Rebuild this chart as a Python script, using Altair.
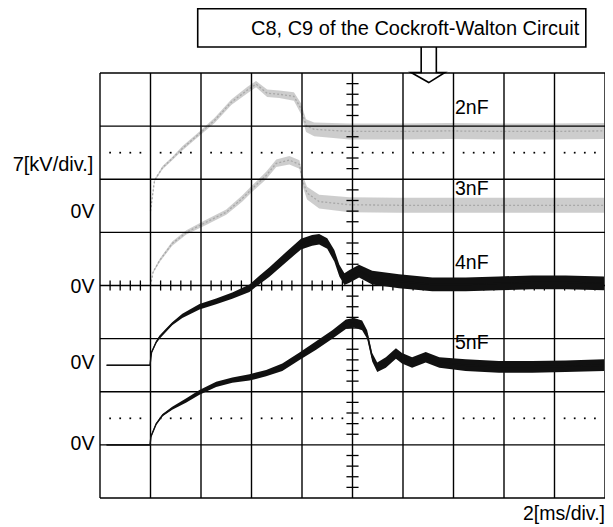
import altair as alt
import pandas as pd

# ---- data (x in divisions of 2 ms, y in divisions of 7 kV) ----
t_2nF = [1.00, 1.08, 1.24, 1.43, 1.63, 1.97, 2.27, 2.60, 2.92, 3.09, 3.31, 3.55, 3.84, 3.98, 4.08, 4.24, 4.94, 5.92, 6.91, 7.90, 8.89, 9.98]
v_2nF = [5.40, 5.98, 6.22, 6.39, 6.58, 6.86, 7.11, 7.45, 7.68, 7.79, 7.62, 7.60, 7.56, 7.33, 7.01, 6.94, 6.90, 6.90, 6.91, 6.90, 6.90, 6.91]
r_2nF = [0.01, 0.02, 0.03, 0.03, 0.04, 0.04, 0.05, 0.05, 0.06, 0.06, 0.07, 0.07, 0.08, 0.10, 0.12, 0.13, 0.15, 0.15, 0.15, 0.15, 0.15, 0.15]

t_3nF = [1.00, 1.05, 1.18, 1.43, 1.71, 2.10, 2.50, 2.82, 3.02, 3.29, 3.49, 3.75, 3.95, 4.01, 4.10, 4.34, 4.94, 5.92, 6.91, 7.90, 8.89, 9.98]
v_3nF = [4.00, 4.25, 4.47, 4.79, 5.00, 5.19, 5.38, 5.64, 5.83, 6.07, 6.30, 6.36, 6.28, 5.98, 5.74, 5.58, 5.52, 5.51, 5.51, 5.51, 5.51, 5.51]
r_3nF = [0.01, 0.02, 0.03, 0.04, 0.04, 0.05, 0.05, 0.06, 0.06, 0.07, 0.07, 0.08, 0.08, 0.10, 0.12, 0.13, 0.14, 0.14, 0.14, 0.14, 0.14, 0.14]

t_4nF = [0.13, 0.99, 1.02, 1.11, 1.18, 1.31, 1.43, 1.63, 1.97, 2.30, 2.62, 2.96, 3.15, 3.35, 3.68, 3.98, 4.20, 4.34, 4.50, 4.64, 4.74, 4.84, 4.94, 5.13, 5.39, 5.92, 6.58, 7.24, 7.90, 8.56, 9.22, 9.98]
v_4nF = [2.50, 2.50, 2.74, 2.93, 3.03, 3.16, 3.28, 3.43, 3.60, 3.70, 3.81, 3.95, 4.10, 4.25, 4.53, 4.78, 4.85, 4.87, 4.79, 4.56, 4.28, 4.12, 4.17, 4.27, 4.15, 4.08, 4.02, 4.02, 4.04, 4.06, 4.06, 4.04]
r_4nF = [0.01, 0.01, 0.02, 0.02, 0.03, 0.03, 0.03, 0.04, 0.05, 0.055, 0.06, 0.07, 0.08, 0.09, 0.095, 0.10, 0.10, 0.10, 0.10, 0.11, 0.11, 0.11, 0.12, 0.12, 0.13, 0.13, 0.13, 0.13, 0.13, 0.13, 0.13, 0.13]

t_5nF = [0.13, 0.99, 1.01, 1.11, 1.24, 1.43, 1.71, 1.97, 2.30, 2.62, 2.96, 3.29, 3.61, 3.95, 4.28, 4.60, 4.87, 5.03, 5.19, 5.29, 5.39, 5.49, 5.66, 5.86, 5.98, 6.18, 6.45, 6.72, 7.24, 7.90, 8.56, 9.22, 9.98]
v_5nF = [1.00, 1.00, 1.16, 1.39, 1.56, 1.69, 1.84, 1.99, 2.14, 2.22, 2.27, 2.35, 2.46, 2.67, 2.87, 3.08, 3.27, 3.30, 3.25, 3.08, 2.65, 2.46, 2.55, 2.72, 2.63, 2.55, 2.65, 2.55, 2.50, 2.47, 2.47, 2.48, 2.50]
r_5nF = [0.01, 0.01, 0.02, 0.02, 0.02, 0.03, 0.04, 0.045, 0.05, 0.05, 0.06, 0.06, 0.07, 0.07, 0.08, 0.08, 0.09, 0.09, 0.09, 0.08, 0.08, 0.09, 0.10, 0.10, 0.10, 0.10, 0.10, 0.10, 0.11, 0.11, 0.11, 0.11, 0.11]

trace_names = ["2nF", "3nF", "4nF", "5nF"]
trace_label_y = [7.35, 5.81, 4.43, 2.91]
trace_label_x = 7.03
zero_label_y = [5.39, 3.98, 2.55, 1.01]
scale_label = "7[kV/div.]"
scale_label_y = 6.26
time_label = "2[ms/div.]"
title_text = "C8, C9 of the Cockroft-Walton Circuit"

# annotation box and hollow arrow (in division units)
box = dict(x=1.935, x2=9.62, y=8.49, y2=9.21)
title_pos = dict(x=2.99, y=8.83)
arrow_x = [6.36, 6.36, 6.16, 6.51, 6.83, 6.66, 6.66]
arrow_y = [8.49, 8.01, 8.01, 7.82, 8.01, 8.01, 8.49]

n_xdiv, n_ydiv = 10, 8
dot_rows = [1.5, 6.5]
sub = [0.2, 0.4, 0.6, 0.8]

# ---- build frames ----
def trace_df(t, v, r):
    return pd.DataFrame({"t": t, "v": v,
                         "lo": [a - b for a, b in zip(v, r)],
                         "hi": [a + b for a, b in zip(v, r)]})

xs = alt.Scale(domain=[0, n_xdiv], nice=False, zero=False)
ys = alt.Scale(domain=[0, n_ydiv], nice=False, zero=False)

def X(f):
    return alt.X(f, type="quantitative", scale=xs, axis=None)

def Y(f):
    return alt.Y(f, type="quantitative", scale=ys, axis=None)

layers = []

# gray traces
for t, v, r in [(t_2nF, v_2nF, r_2nF), (t_3nF, v_3nF, r_3nF)]:
    d = trace_df(t, v, r)
    layers.append(alt.Chart(d).mark_area(color="#c8c8c8", opacity=0.9).encode(
        x=X("t"), y=Y("lo"), y2="hi"))
    layers.append(alt.Chart(d).mark_line(color="#a8a8a8", strokeWidth=1.3, strokeDash=[2, 2]).encode(
        x=X("t"), y=Y("v")))

# graticule
vl = pd.DataFrame({"x": list(range(0, n_xdiv + 1))})
hl = pd.DataFrame({"y": list(range(0, n_ydiv + 1))})
layers.append(alt.Chart(vl).mark_rule(color="black", strokeWidth=1.4).encode(
    x=X("x"), y=alt.value(0), y2=alt.value(425)))
layers.append(alt.Chart(hl).mark_rule(color="black", strokeWidth=1.4).encode(
    y=Y("y"), x=alt.value(0), x2=alt.value(505)))

dots = pd.DataFrame([{"x": k + f, "y": yy} for yy in dot_rows for k in range(n_xdiv) for f in sub])
layers.append(alt.Chart(dots).mark_square(size=3, color="black", opacity=1).encode(
    x=X("x"), y=Y("y")))

vt = pd.DataFrame([{"y": k + f, "x": 5 - 0.12, "x2": 5 + 0.12} for k in range(n_ydiv) for f in sub])
layers.append(alt.Chart(vt).mark_rule(color="black", strokeWidth=1.3).encode(
    x=X("x"), x2="x2", y=Y("y")))
ht = pd.DataFrame([{"x": k + f, "y": 4 - 0.095, "y2": 4 + 0.095} for k in range(n_xdiv) for f in sub])
layers.append(alt.Chart(ht).mark_rule(color="black", strokeWidth=1.3).encode(
    x=X("x"), y=Y("y"), y2="y2"))

# black traces
for t, v, r in [(t_4nF, v_4nF, r_4nF), (t_5nF, v_5nF, r_5nF)]:
    d = trace_df(t, v, r)
    layers.append(alt.Chart(d).mark_area(color="#111111").encode(
        x=X("t"), y=Y("lo"), y2="hi"))
    layers.append(alt.Chart(d).mark_line(color="#111111", strokeWidth=1.4).encode(
        x=X("t"), y=Y("v")))

font = "Liberation Sans"
fs = 19.5

lab = pd.DataFrame({"x": [trace_label_x] * 4, "y": trace_label_y, "txt": trace_names})
layers.append(alt.Chart(lab).mark_text(align="left", baseline="middle", font=font, fontSize=fs, color="black").encode(
    x=X("x"), y=Y("y"), text="txt:N"))

zl = pd.DataFrame({"x": [-0.11] * 4, "y": zero_label_y, "txt": ["0V"] * 4})
layers.append(alt.Chart(zl).mark_text(align="right", baseline="middle", font=font, fontSize=fs, color="black").encode(
    x=X("x"), y=Y("y"), text="txt:N"))

sl = pd.DataFrame({"x": [-0.13], "y": [scale_label_y], "txt": [scale_label]})
layers.append(alt.Chart(sl).mark_text(align="right", baseline="middle", font=font, fontSize=20, color="black").encode(
    x=X("x"), y=Y("y"), text="txt:N"))

tl = pd.DataFrame({"x": [10.0], "y": [-0.31], "txt": [time_label]})
layers.append(alt.Chart(tl).mark_text(align="right", baseline="middle", font=font, fontSize=fs, color="black").encode(
    x=X("x"), y=Y("y"), text="txt:N"))

bx = pd.DataFrame([box])
layers.append(alt.Chart(bx).mark_rect(fill="white", stroke="black", strokeWidth=1.6).encode(
    x=X("x"), x2="x2", y=Y("y"), y2="y2"))
tt = pd.DataFrame([{**title_pos, "txt": title_text}])
layers.append(alt.Chart(tt).mark_text(align="left", baseline="middle", font=font, fontSize=20, color="black").encode(
    x=X("x"), y=Y("y"), text="txt:N"))

ar = pd.DataFrame({"x": arrow_x, "y": arrow_y, "o": list(range(len(arrow_x)))})
layers.append(alt.Chart(ar).mark_line(color="black", strokeWidth=1.6).encode(
    x=X("x"), y=Y("y"), order="o:Q"))

chart = alt.layer(*layers).properties(
    width=505, height=425,
    padding={"left": 92, "top": 65, "right": 0, "bottom": 30},
    autosize=alt.AutoSizeParams(type="none"),
    background="white",
).configure_view(strokeWidth=0)

chart.save("out.html", embed_options={"renderer": "svg", "actions": False})
